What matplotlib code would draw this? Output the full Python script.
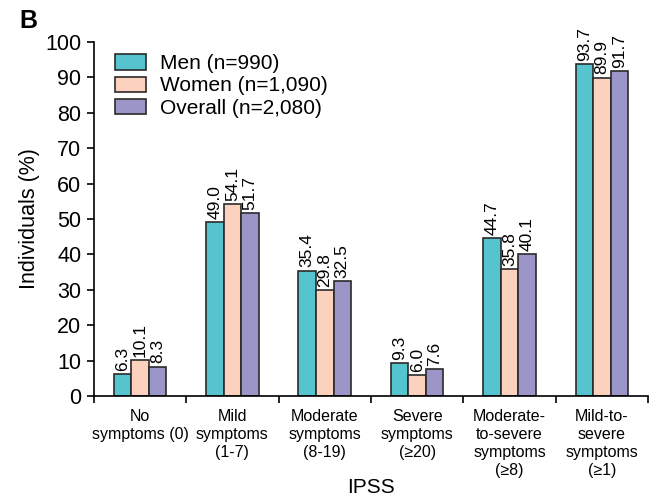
import matplotlib.pyplot as plt
import numpy as np

plt.rcParams['font.family'] = ['Liberation Sans', 'DejaVu Sans']

# data
categories = ['No\nsymptoms (0)', 'Mild\nsymptoms\n(1-7)', 'Moderate\nsymptoms\n(8-19)',
              'Severe\nsymptoms\n(\u226520)', 'Moderate-\nto-severe\nsymptoms\n(\u22658)',
              'Mild-to-\nsevere\nsymptoms\n(\u22651)']
men = [6.3, 49.0, 35.4, 9.3, 44.7, 93.7]
women = [10.1, 54.1, 29.8, 6.0, 35.8, 89.9]
overall = [8.3, 51.7, 32.5, 7.6, 40.1, 91.7]
series_names = ['Men (n=990)', 'Women (n=1,090)', 'Overall (n=2,080)']
colors = ['#55C4CE', '#FCD2BF', '#9C95C8']

fig = plt.figure(figsize=(6.56, 4.96), dpi=100)
ax = fig.add_axes([0.143, 0.2016, 0.845, 0.714])

x = np.arange(len(categories))
w = 0.19
for k, (vals, name, c) in enumerate(zip([men, women, overall], series_names, colors)):
    pos = x + (k - 1) * w
    ax.bar(pos, vals, width=w, color=c, edgecolor='#2a2a2a', linewidth=1.2, label=name)
    for p, v in zip(pos, vals):
        ax.text(p, v + 0.9, '%.1f' % v, rotation=90, ha='center', va='bottom', fontsize=12.5)

ax.set_xlim(-0.5, len(categories) - 0.5)
ax.set_ylim(0, 100)
ax.set_yticks(range(0, 101, 10))
ax.tick_params(axis='y', labelsize=15.5, length=5, width=1.2, pad=4)
ax.set_xticks(x)
ax.set_xticklabels(categories, fontsize=11.5, linespacing=1.25)
ax.tick_params(axis='x', length=0, pad=9)
ax.set_xticks(np.arange(-0.5, len(categories), 1), minor=True)
ax.tick_params(axis='x', which='minor', length=5, width=1.2)
for s in ['top', 'right']:
    ax.spines[s].set_visible(False)
ax.spines['left'].set_linewidth(1.2)
ax.spines['bottom'].set_linewidth(1.2)

ax.set_ylabel('Individuals (%)', fontsize=15.5, labelpad=4)
ax.set_xlabel('IPSS', fontsize=15, labelpad=0)
ax.legend(loc='upper left', bbox_to_anchor=(0.015, 1.0), frameon=False, fontsize=15,
          handlelength=1.5, handleheight=0.75, labelspacing=0.15, handletextpad=0.7,
          borderaxespad=0.2)

fig.text(0.03, 0.958, 'B', fontsize=18, fontweight='bold', va='center')

fig.savefig('out.png', dpi=100)
